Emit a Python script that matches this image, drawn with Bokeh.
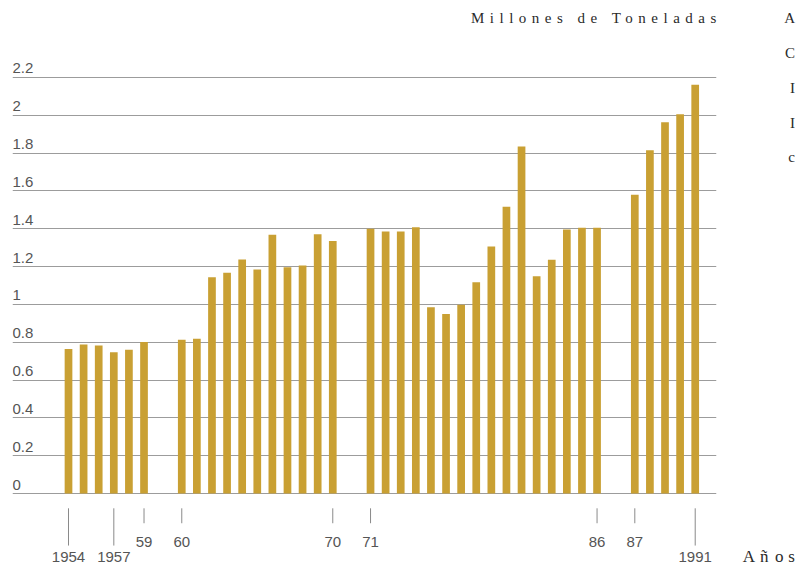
from bokeh.plotting import figure
from bokeh.models import Range1d, FixedTicker, ColumnDataSource, Div, Grid
from bokeh.layouts import column, row
from bokeh.embed import file_html
from bokeh.resources import INLINE
from bokeh.core.properties import value

# ---------------- data ----------------
years = list(range(1954, 1992))
production = [0.765, 0.788, 0.783, 0.747, 0.760, 0.802,
              0.813, 0.818, 1.144, 1.167, 1.237, 1.185, 1.368, 1.197, 1.206, 1.371, 1.336,
              1.400, 1.385, 1.385, 1.408, 0.985, 0.950, 0.998, 1.117, 1.306, 1.516, 1.835,
              1.149, 1.236, 1.396, 1.405, 1.405,
              1.580, 1.815, 1.963, 2.006, 2.161]
segment_starts = [1954, 1960, 1971, 1987]
y_ticks = [0, 0.2, 0.4, 0.6, 0.8, 1.0, 1.2, 1.4, 1.6, 1.8, 2.0, 2.2]
y_tick_labels = ["0", "0.2", "0.4", "0.6", "0.8", "1", "1.2", "1.4", "1.6", "1.8", "2", "2.2"]
x_tick_years = [1954, 1957, 1959, 1960, 1970, 1971, 1986, 1987, 1991]
x_tick_labels = ["1954", "1957", "59", "60", "70", "71", "86", "87", "1991"]
x_tick_long = [True, True, False, False, False, False, False, False, True]
unit_title = "Millones de Toneladas"
x_title = "Años"
edge_letters = ["A", "C", "I", "I", "c"]

# ---------------- layout constants ----------------
GAP = 1.5            # empty slots between segments
BAR_W = 0.51
X_START, X_END = -3.709, 42.91
Y_START, Y_END = -0.391, 2.385
BAR_COLOR = "#C9A033"
GRID_COLOR = "#9c9c9c"
TEXT_GRAY = "#555555"
SANS = "Liberation Sans"
SERIF_CSS = "font-family:'Liberation Serif',serif;"


def pos(year):
    g = sum(1 for s in segment_starts if year >= s) - 1
    return (year - years[0]) + GAP * g


bars = ColumnDataSource(dict(x=[pos(y) for y in years], top=production))

p = figure(width=740, height=525, x_range=Range1d(X_START, X_END),
           y_range=Range1d(Y_START, Y_END), output_backend="svg",
           toolbar_location=None, x_axis_location=None, y_axis_location=None,
           min_border_left=12, min_border_right=24, min_border_top=0,
           min_border_bottom=0, outline_line_color=None)
p.background_fill_color = "white"
p.border_fill_color = "white"
p.grid.visible = False

p.add_layout(Grid(dimension=1, ticker=FixedTicker(ticks=y_ticks),
                  grid_line_color=GRID_COLOR, grid_line_width=1))

p.vbar(x="x", top="top", bottom=0, width=BAR_W, source=bars,
       fill_color=BAR_COLOR, line_color=None)

# y labels sitting above the gridlines
p.text(x=[X_START] * len(y_ticks), y=y_ticks, text=y_tick_labels,
       text_font=value(SANS), text_font_size="15px", text_color=TEXT_GRAY,
       text_align="left", text_baseline="alphabetic", y_offset=-9)

# x ticks and labels
tick_x = [pos(y) for y in x_tick_years]
tick_y0 = [-0.078 for _ in x_tick_years]
tick_y1 = [-0.275 if lg else -0.157 for lg in x_tick_long]
lab_y = [-0.365 if lg else -0.2856 for lg in x_tick_long]
p.segment(x0=tick_x, y0=tick_y0, x1=tick_x, y1=tick_y1,
          line_color="#8a8a8a", line_width=1)
p.text(x=tick_x, y=lab_y, text=x_tick_labels, text_font=value(SANS),
       text_font_size="15px", text_color=TEXT_GRAY, text_align="center",
       text_baseline="alphabetic", y_offset=-6)

# titles (letter-spaced serif) as inline svg text
title_div = Div(width=740, height=42, margin=0, text=(
    '<svg width="740" height="42" style="display:block">'
    f'<text x="471" y="22.5" style="{SERIF_CSS}font-size:15px;letter-spacing:5.5px;'
    f'fill:#2a2a2a">{unit_title}</text></svg>'))

edge_baselines = [23, 58, 93, 128, 161.5]
edge_svg = "".join(
    f'<text x="55" y="{b}" text-anchor="end" style="{SERIF_CSS}font-size:15px;'
    f'fill:#2a2a2a">{t}</text>'
    for t, b in zip(edge_letters, edge_baselines))
title_glyph_x = "2.7 20 35 48.3"
right_div = Div(width=56, height=567, margin=0, text=(
    '<svg width="56" height="567" style="display:block">'
    + edge_svg +
    f'<text x="{title_glyph_x}" y="562" style="{SERIF_CSS}font-size:17px;'
    f'fill:#2a2a2a">{x_title}</text></svg>'))

layout = row(column(title_div, p, spacing=0), right_div, spacing=0)

open("out.html", "w").write(file_html(layout, INLINE))
